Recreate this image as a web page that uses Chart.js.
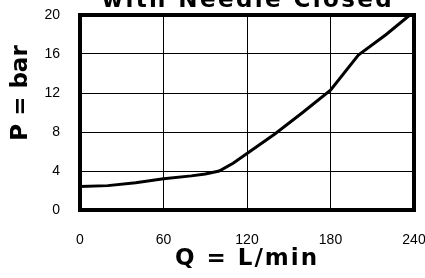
<!DOCTYPE html>
<html>
<head>
<meta charset="utf-8">
<script src="https://cdn.jsdelivr.net/npm/chart.js@4.4.0/dist/chart.umd.min.js"></script>
<style>
  html, body { margin: 0; padding: 0; background: #fff; }
  #wrap { width: 425px; height: 278px; }
</style>
</head>
<body>
<div id="wrap"><canvas id="chartPressao" width="425" height="278"></canvas></div>
<script>
// flow (L/min) vs pressure (bar)
const flowQ = [0, 20, 40, 60, 80, 90, 100, 110, 120, 140, 160, 180, 200, 220, 237];
const pressureP = [2.4, 2.5, 2.8, 3.2, 3.5, 3.7, 4.0, 4.8, 5.8, 7.8, 10.0, 12.3, 15.9, 18.0, 20.0];
const yTicks = [0, 4, 8, 12, 16, 20];
const xTicks = [0, 60, 120, 180, 240];

const chartTitle = "with Needle Closed";
const xTitle = "Q = L/min";
const yTitle = "P = bar";

const heavy = "bold 23px 'DejaVu Sans'";

// titles + the thick frame round the plot
const molduraPlugin = {
  id: "moldura",
  afterDraw(chart) {
    const { ctx, chartArea: a } = chart;
    ctx.save();
    ctx.strokeStyle = "#000";
    ctx.lineWidth = 4;
    ctx.strokeRect(a.left, a.top, a.right - a.left, a.bottom - a.top);

    ctx.fillStyle = "#000";
    ctx.font = heavy;
    ctx.textAlign = "center";
    ctx.textBaseline = "alphabetic";
    ctx.letterSpacing = "2.4px";
    ctx.fillText(chartTitle, 248, 7);
    ctx.letterSpacing = "2px";
    ctx.fillText(xTitle, 247, 265);

    ctx.letterSpacing = "0px";
    ctx.translate(27, 93);
    ctx.rotate(-Math.PI / 2);
    ctx.fillText(yTitle, 0, 0);
    ctx.restore();
  },
};

const ctx = document.getElementById("chartPressao").getContext("2d");

new Chart(ctx, {
  type: "line",
  data: {
    datasets: [
      {
        data: flowQ.map((q, i) => ({ x: q, y: pressureP[i] })),
        borderColor: "#000",
        borderWidth: 3,
        pointRadius: 0,
        tension: 0,
        fill: false,
      },
    ],
  },
  options: {
    responsive: false,
    animation: false,
    devicePixelRatio: 1,
    layout: { padding: { top: 15, right: 11, left: 0, bottom: 0 } },
    plugins: { legend: { display: false }, tooltip: { enabled: false } },
    scales: {
      x: {
        type: "linear",
        min: 0,
        max: 240,
        afterBuildTicks: (s) => { s.ticks = xTicks.map((v) => ({ value: v })); },
        afterFit: (s) => {
          s.height = 68;
          s.paddingLeft = 0;
          s.paddingRight = 0;
        },
        grid: { color: "#000", lineWidth: 1, drawTicks: false },
        border: { display: false },
        ticks: { color: "#000", padding: 22, maxRotation: 0, font: { family: "Liberation Sans", size: 14 } },
      },
      y: {
        min: 0,
        max: 20,
        afterBuildTicks: (s) => { s.ticks = yTicks.map((v) => ({ value: v })); },
        afterFit: (s) => {
          s.width = 80;
          s.paddingTop = 0;
          s.paddingBottom = 0;
        },
        grid: { color: "#000", lineWidth: 1, drawTicks: false },
        border: { display: false },
        ticks: { color: "#000", padding: 20, font: { family: "Liberation Sans", size: 14 } },
      },
    },
  },
  plugins: [molduraPlugin],
});
</script>
</body>
</html>
